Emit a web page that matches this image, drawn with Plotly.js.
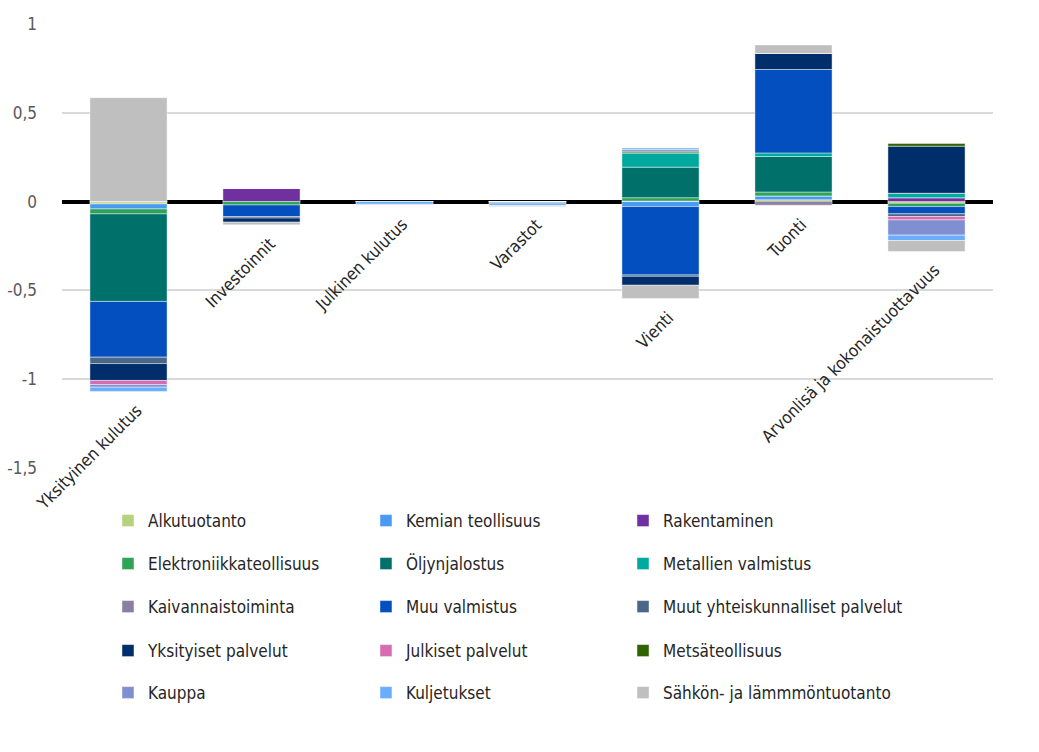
<!DOCTYPE html>
<html>
<head>
<meta charset="utf-8">
<script src="https://cdn.plot.ly/plotly-3.0.1.min.js"></script>
<style>
  html, body { margin: 0; padding: 0; background: #ffffff; }
  #chart { width: 1039px; height: 752px; }
</style>
</head>
<body>
<div id="chart"></div>
<script>
// Demand components on the x axis
const categories = ['Yksityinen kulutus', 'Investoinnit', 'Julkinen kulutus', 'Varastot',
  'Vienti', 'Tuonti', 'Arvonlisä ja kokonaistuottavuus'];

// Contribution of each industry to each component
const alkutuotanto      = [-0.013, 0,      0,      0,      0.003,  0.010, -0.010];
const kemianTeollisuus  = [-0.028, 0,      0,     -0.012, -0.028,  0.022,  0];
const rakentaminen      = [0,      0.075,  0,      0,      0,      0,      0.022];
const elektroniikka     = [-0.028, -0.019, 0,      0,      0.019,  0.022, -0.018];
const oljynjalostus     = [-0.493, 0,      0,      0,      0.172,  0.200,  0];
const metallienValm     = [0,      0,      0,      0,      0.081,  0.020,  0.025];
const kaivannais        = [0,      0,      0,      0,      0,     -0.020,  0];
const muuValmistus      = [-0.314, -0.065, 0,      0,     -0.385,  0.470, -0.041];
const muutYhteisk       = [-0.036, -0.009, 0,      0,     -0.008,  0,     -0.015];
const yksityisetPalv    = [-0.095, -0.023, 0,      0,     -0.050,  0.090,  0.265];
const julkisetPalv      = [-0.023, 0,      0,      0,      0,      0,     -0.019];
const metsateollisuus   = [0,      0,      0,      0,      0.009,  0,      0.015];
const kauppa            = [-0.015, 0,      0,      0,      0.010,  0,     -0.086];
const kuljetukset       = [-0.024, 0,     -0.015, -0.010,  0.008,  0,     -0.030];
const sahkoLampo        = [0.585, -0.015, -0.004, -0.005, -0.075,  0.048, -0.062];

const seriesNames = ['Alkutuotanto', 'Kemian teollisuus', 'Rakentaminen',
  'Elektroniikkateollisuus', 'Öljynjalostus', 'Metallien valmistus',
  'Kaivannaistoiminta', 'Muu valmistus', 'Muut yhteiskunnalliset palvelut',
  'Yksityiset palvelut', 'Julkiset palvelut', 'Metsäteollisuus',
  'Kauppa', 'Kuljetukset', 'Sähkön- ja lämmmöntuotanto'];
const seriesValues = [alkutuotanto, kemianTeollisuus, rakentaminen, elektroniikka,
  oljynjalostus, metallienValm, kaivannais, muuValmistus, muutYhteisk,
  yksityisetPalv, julkisetPalv, metsateollisuus, kauppa, kuljetukset, sahkoLampo];
const seriesColors = ['#b6d27c', '#4a9af2', '#7030a0', '#2fa457', '#00706a',
  '#00a99d', '#8a7fa0', '#034fbf', '#4a678a', '#002e6b', '#d56db2', '#2e6300',
  '#7f8fd1', '#6aadff', '#bfbfbf'];

// Y axis ticks with Finnish decimal comma
const yTickVals = [-1.5, -1, -0.5, 0, 0.5, 1];
const yTickText = ['-1,5', '-1', '-0,5', '0', '0,5', '1'];

const FONT = 'DejaVu Sans Condensed, Liberation Sans Narrow, sans-serif';

// Legend grid: 3 columns x 5 rows, one small legend per entry
const legendColsX = [0.0494, 0.3265, 0.6026];
const legendRowsY = [-0.1194, -0.2162, -0.3131, -0.4122, -0.5068];
const legendId = i => (i === 0 ? 'legend' : 'legend' + (i + 1));

const traces = seriesNames.map((name, i) => ({
  type: 'bar',
  name: name,
  x: categories,
  y: seriesValues[i],
  marker: { color: seriesColors[i], line: { color: 'rgba(255,255,255,0.55)', width: 0.8 } },
  legend: legendId(i),
  hoverinfo: 'name+y'
}));

// Category labels sit just under the lowest end of each bar
const bottoms = categories.map((c, j) =>
  seriesValues.reduce((acc, s) => acc + (s[j] < 0 ? s[j] : 0), 0));

const annotations = categories.map((c, j) => ({
  x: c, y: bottoms[j], xref: 'x', yref: 'y',
  text: c, showarrow: false, textangle: -45,
  xanchor: 'right', yanchor: 'top', xshift: 20, yshift: -6,
  font: { family: FONT, size: 17, color: '#262626' }
}));

const layout = {
  width: 1039, height: 752,
  margin: { l: 62, r: 46, t: 24, b: 284 },
  paper_bgcolor: '#ffffff', plot_bgcolor: '#ffffff',
  barmode: 'relative', bargap: 0.42,
  font: { family: FONT, size: 17, color: '#262626' },
  xaxis: {
    type: 'category', range: [-0.5, 6.5],
    showticklabels: false, showgrid: false, zeroline: false, showline: false, ticks: ''
  },
  yaxis: {
    range: [-1.5, 1], tickvals: yTickVals, ticktext: yTickText,
    showgrid: true, gridcolor: '#d9d9d9', gridwidth: 2,
    zeroline: true, zerolinecolor: '#000000', zerolinewidth: 4,
    showline: false, ticks: '', ticklabelstandoff: 24,
    tickfont: { family: FONT, size: 17, color: '#595959' }
  },
  annotations: annotations,
  showlegend: true
};

seriesNames.forEach((name, i) => {
  layout[legendId(i)] = {
    orientation: 'h',
    x: legendColsX[i % 3], xanchor: 'left',
    y: legendRowsY[Math.floor(i / 3)], yanchor: 'middle',
    bgcolor: 'rgba(0,0,0,0)',
    font: { family: FONT, size: 17, color: '#262626' }
  };
});

Plotly.newPlot('chart', traces, layout, { displayModeBar: false, staticPlot: true });
</script>
</body>
</html>
